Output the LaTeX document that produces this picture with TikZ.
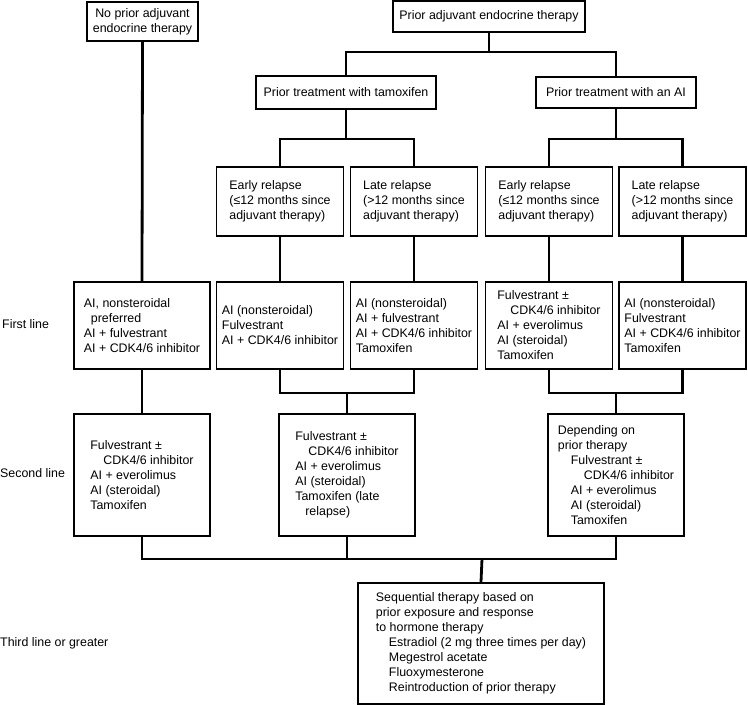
\documentclass[tikz,border=0pt]{standalone}
\usepackage{fontspec}
\setmainfont{Liberation Sans}
\usetikzlibrary{positioning, calc}

\tikzset{
  box/.style={draw, line width=1.8pt, align=left, inner sep=0pt},
  cbox/.style={box, align=center},
  wide/.style={box, minimum width=136pt},
  link/.style={line width=2.8pt},
}

\begin{document}
\begin{tikzpicture}[x=1pt, y=-1pt, font=\fontsize{12.4}{15}\selectfont]
\useasboundingbox (0,0) rectangle (748,705);

\node (noprior) at (142.5,21.5) [cbox, minimum width=111pt, minimum height=39pt] {No prior adjuvant\\endocrine therapy};
\node (prior) at (489,16.5) [cbox, minimum width=192pt, minimum height=31pt] {Prior adjuvant endocrine therapy};
\node (tam) at (346,92.5) [cbox, minimum width=180pt, minimum height=33pt] {Prior treatment with tamoxifen};
\node (ai) at (616,92.5) [cbox, minimum width=160pt, minimum height=31pt] {Prior treatment with an AI};

\foreach \n/\x/\w/\s in {rel1/280/Early/≤, rel2/414/Late/>, rel3/549/Early/≤, rel4/682.5/Late/>} {
    \node (\n) at (\x,201.5) [box, minimum width=127pt, minimum height=69pt] {\w\ relapse\\(\s12 months since\\adjuvant therapy)};
}

\node (first) at (2,324) [anchor=west, inner sep=0pt] {First line};
\node (second) at (0,473) [anchor=west, inner sep=0pt] {Second line};
\node (third) at (0,643) [anchor=west, inner sep=0pt] {Third line or greater};

\node (fl0) at (142,325.5) [wide, minimum height=87pt] {AI, nonsteroidal\\\hspace*{7pt}preferred\\AI + fulvestrant\\AI + CDK4/6 inhibitor};
\node (fl1) at (280,325.5) [box, minimum width=127pt, minimum height=87pt] {AI (nonsteroidal)\\Fulvestrant\\AI + CDK4/6 inhibitor};
\node (fl2) at (414,325.5) [box, minimum width=127pt, minimum height=87pt] {AI (nonsteroidal)\\AI + fulvestrant\\AI + CDK4/6 inhibitor\\Tamoxifen};
\node (fl3) at (549,325.5) [box, minimum width=127pt, minimum height=87pt] {Fulvestrant ±\\\hspace*{13pt}CDK4/6 inhibitor\\AI + everolimus\\AI (steroidal)\\Tamoxifen};
\node (fl4) at (682.5,325.5) [box, minimum width=127pt, minimum height=87pt] {AI (nonsteroidal)\\Fulvestrant\\AI + CDK4/6 inhibitor\\Tamoxifen};

\node (sl0) at (142,475) [wide, minimum height=122pt] {Fulvestrant ±\\\hspace*{13pt}CDK4/6 inhibitor\\AI + everolimus\\AI (steroidal)\\Tamoxifen};
\node (sl1) at (347,475) [wide, minimum height=122pt] {Fulvestrant ±\\\hspace*{13pt}CDK4/6 inhibitor\\AI + everolimus\\AI (steroidal)\\Tamoxifen (late\\\hspace*{10pt}relapse)};
\node (sl2) at (616,475) [wide, minimum height=122pt] {Depending on\\prior therapy\\\hspace*{13pt}Fulvestrant ±\\\hspace*{26pt}CDK4/6 inhibitor\\\hspace*{13pt}AI + everolimus\\\hspace*{13pt}AI (steroidal)\\\hspace*{13pt}Tamoxifen};

\node (seq) at (481,643.5) [box, minimum width=246pt, minimum height=121pt] {Sequential therapy based on\\prior exposure and response\\to hormone therapy\\\hspace*{13pt}Estradiol (2 mg three times per day)\\\hspace*{13pt}Megestrol acetate\\\hspace*{13pt}Fluoxymesterone\\\hspace*{13pt}Reintroduction of prior therapy};

\coordinate (j1) at (489,52);
\coordinate (j2) at (346,139);
\coordinate (j3) at (616,139);
\coordinate (j4) at (347,393);
\coordinate (j5) at (616,393);
\coordinate (j6) at (482,559);

\draw[link] (noprior.south) -- (fl0.north);
\draw[link] (fl0.south) -- (sl0.north);
\draw[link] (prior.south) -- (j1);
\draw[link] (tam.north) |- (j1) -| (ai.north);
\draw[link] (tam.south) -- (j2);
\draw[link] (rel1.north) |- (j2) -| (rel2.north);
\draw[link] (ai.south) -- (j3);
\draw[link] (rel3.north) |- (j3) -| (rel4.north);
\foreach \i in {1,...,4} {
    \draw[link] (rel\i.south) -- (fl\i.north);
}
\draw[link] (fl1.south) |- (j4) -| (fl2.south);
\draw[link] (j4) -- (sl1.north);
\draw[link] (fl3.south) |- (j5) -| (fl4.south);
\draw[link] (j5) -- (sl2.north);
\draw[link] (sl0.south) |- (j6) -| (sl2.south);
\draw[link] (sl1.south) -- (sl1.south |- j6);
\draw[link] (j6) -- (seq.north);
\end{tikzpicture}
\end{document}
